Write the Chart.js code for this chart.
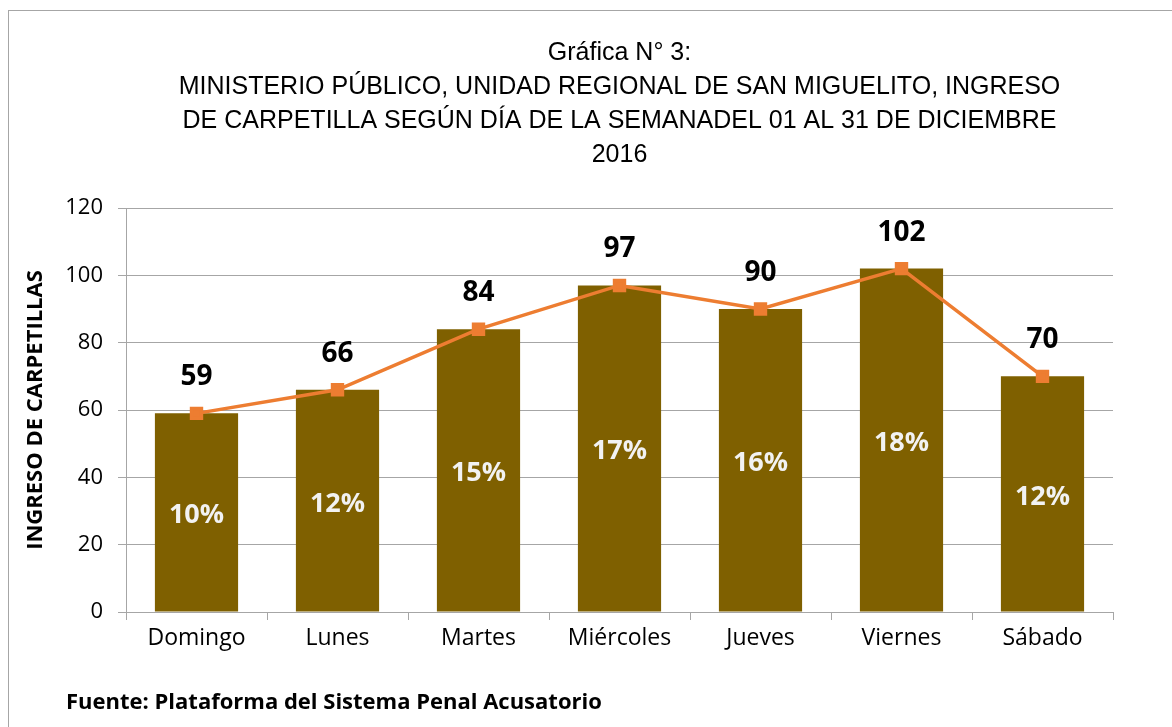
<!DOCTYPE html>
<html>
<head>
<meta charset="utf-8">
<script src="https://cdn.jsdelivr.net/npm/chart.js@4.4.1/dist/chart.umd.min.js"></script>
<style>
html,body{margin:0;padding:0;background:#fff;}
#wrap{position:relative;width:1172px;height:727px;overflow:hidden;}
#frame{position:absolute;left:8px;top:10px;width:1170px;height:740px;border:1px solid #a6a6a6;box-sizing:border-box;}
#chart{position:absolute;left:0;top:0;}
#fuente{position:absolute;left:66px;top:685px;font:bold 22px "Open Sans",Lato,sans-serif;color:#000;}
</style>
</head>
<body>
<div id="wrap">
  <div id="frame"></div>
  <canvas id="chart" width="1172" height="727"></canvas>
  <div id="fuente">Fuente: Plataforma del Sistema Penal Acusatorio</div>
</div>
<script>
const dias=['Domingo','Lunes','Martes','Miércoles','Jueves','Viernes','Sábado'];
const ingresos=[59,66,84,97,90,102,70];
const porcentajes=[10,12,15,17,16,18,12];
const yTicks=[0,20,40,60,80,100,120];
const titulo=['Gráfica N° 3:','MINISTERIO PÚBLICO, UNIDAD REGIONAL DE SAN MIGUELITO, INGRESO','DE CARPETILLA SEGÚN DÍA DE LA SEMANADEL 01 AL 31 DE DICIEMBRE','2016'];

const BAR='#7f6000', LINE='#ed7d31', GRID='#a6a6a6';
const FONT='"Open Sans", Lato, sans-serif';

// porcentajes dentro de la barra, valores encima del marcador
const etiquetas={
  id:'etiquetas',
  afterDatasetsDraw(chart){
    const ctx=chart.ctx;
    const bars=chart.getDatasetMeta(1).data;
    const pts=chart.getDatasetMeta(0).data;
    const y=chart.scales.y;
    ctx.save();
    ctx.textAlign='center';
    ctx.textBaseline='middle';
    bars.forEach((b,i)=>{
      const mid=(y.getPixelForValue(ingresos[i])+y.getPixelForValue(0))/2;
      ctx.fillStyle='#f2f2f2';
      ctx.font='bold 27px '+FONT;
      ctx.fillText(porcentajes[i]+'%',b.x,mid+3);
    });
    pts.forEach((p,i)=>{
      ctx.fillStyle='#000';
      ctx.font='bold 28px '+FONT;
      ctx.fillText(String(ingresos[i]),p.x,p.y-36);
    });
    ctx.restore();
  }
};

new Chart(document.getElementById('chart'),{
  data:{
    labels:dias,
    datasets:[
      {type:'line',label:'Ingreso',data:ingresos,borderColor:LINE,backgroundColor:LINE,borderWidth:3.5,
       pointStyle:'rect',pointRadius:7,pointHoverRadius:7,pointBackgroundColor:LINE,pointBorderColor:LINE,tension:0,order:1},
      {type:'bar',label:'Carpetillas',data:ingresos,backgroundColor:BAR,borderWidth:0,
       barPercentage:0.59,categoryPercentage:1,order:2}
    ]
  },
  options:{
    responsive:false,animation:false,
    layout:{padding:{left:10,right:59,top:10,bottom:65}},
    plugins:{
      legend:{display:false},tooltip:{enabled:false},
      title:{display:true,fullSize:false,text:titulo,color:'#000',
        font:{family:'"Liberation Sans",Arial,sans-serif',size:25,weight:'normal',lineHeight:1.36},
        padding:{top:26,bottom:36}}
    },
    scales:{
      x:{
        grid:{display:true,drawOnChartArea:false,drawTicks:true,tickLength:8,color:GRID,offset:true},
        border:{color:GRID},
        ticks:{color:'#000',font:{family:FONT,size:23},padding:5},
        afterFit(s){s.height=50;}
      },
      y:{
        min:0,max:120,
        afterBuildTicks(s){s.ticks=yTicks.map(v=>({value:v}));},
        grid:{color:GRID,tickLength:8},
        border:{color:GRID},
        ticks:{color:'#000',font:{family:FONT,size:22},padding:15},
        title:{display:true,text:'INGRESO DE CARPETILLAS',color:'#000',font:{family:FONT,size:22,weight:'bold'},padding:{top:13,bottom:10}},
        afterFit(s){s.width=116;}
      }
    }
  },
  plugins:[etiquetas]
});
</script>
</body>
</html>
